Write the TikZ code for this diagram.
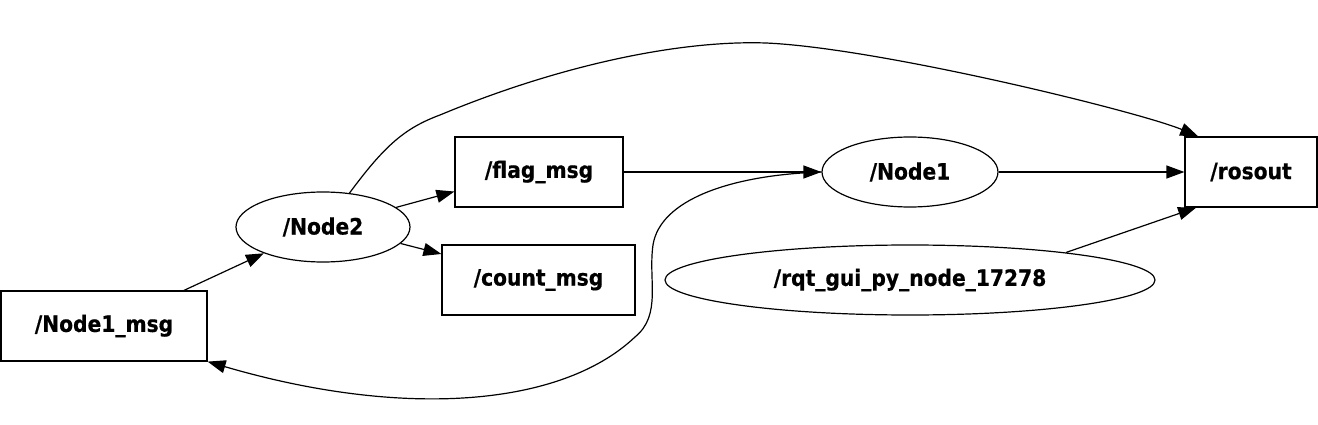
\documentclass[tikz,border=0pt]{standalone}
\usepackage{fontspec}
\newfontfamily\lbl[FakeBold=0.6]{DejaVu Sans Condensed Bold}
\usetikzlibrary{shapes.geometric,arrows.meta}
\begin{document}
\begin{tikzpicture}[x=1pt,y=-1pt,
  every node/.style={font=\lbl\fontsize{22.5}{26}\selectfont, draw, line width=1.2pt, inner sep=0pt},
  topic/.style={rectangle},
  rosnode/.style={ellipse},
  edge/.style={line width=1.2pt, -{Triangle[length=18pt,width=13pt]}}]
\useasboundingbox (0,0) rectangle (1318,425);
\node[topic, minimum width=206pt, minimum height=70pt] (m) at (104,326) {/Node1\_msg};
\node[rosnode, minimum width=174pt, minimum height=70pt] (n2) at (323,227) {/Node2};
\node[topic, minimum width=168pt, minimum height=70pt] (flag) at (539,172) {/flag\_msg};
\node[topic, minimum width=193pt, minimum height=70pt] (count) at (538.5,280) {/count\_msg};
\node[rosnode, minimum width=176pt, minimum height=70pt] (n1) at (910,172) {/Node1};
\node[topic, minimum width=132pt, minimum height=70pt] (ros) at (1251,172) {/rosout};
\node[rosnode, minimum width=490pt, minimum height=70pt] (rqt) at (910,280) {/rqt\_gui\_py\_node\_17278};
\draw[edge] (m.24) -- (n2.204);
\draw[edge] (n2.15) -- (flag.193);
\draw[edge] (n2.-12) -- (count.165);
\draw[edge] (flag.east) -- (n1.west);
\draw[edge] (n1.east) -- (ros.west);
\draw[edge] (rqt.10) -- (ros.213);
\draw[edge] (n2.52) .. controls (385,145) and (405,128) .. (440,115)
  .. controls (560,65) and (680,40) .. (766,43)
  .. controls (880,48) and (1140,112) .. (ros.146);
\draw[edge] (n1.west) .. controls (730,175) and (660,200) .. (653,245)
  .. controls (648,280) and (662,315) .. (635,337)
  .. controls (560,408) and (400,418) .. (m.south east);
\end{tikzpicture}
\end{document}
